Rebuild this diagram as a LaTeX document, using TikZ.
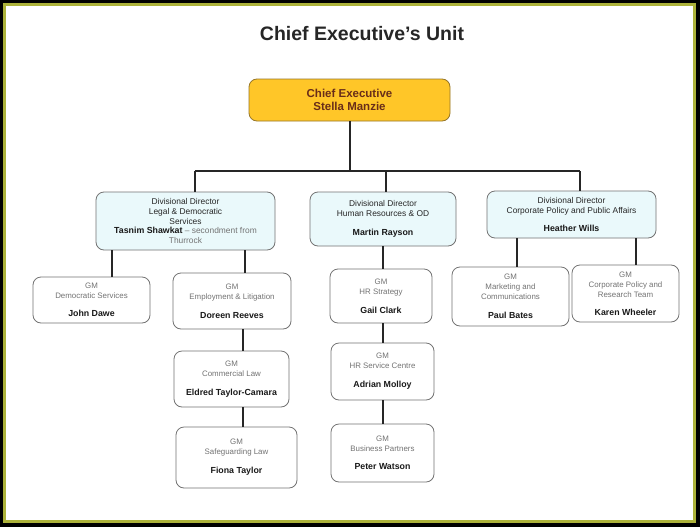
\documentclass[tikz,border=0pt]{standalone}
\usepackage{fontspec}
\setmainfont{Liberation Sans}
\definecolor{cadreolive}{RGB}{172,178,58}
\definecolor{orCE}{RGB}{255,198,40}
\definecolor{bordCE}{RGB}{150,118,40}
\definecolor{brunCE}{RGB}{105,45,25}
\definecolor{cyanDD}{RGB}{234,249,251}
\newcommand{\nom}[1]{{\color{black!90}\bfseries\fontsize{8.8}{10}\selectfont #1}}
\begin{document}
\begin{tikzpicture}[x=1pt,y=-1pt]
            % Styles (MODIFIABLES)
            \tikzstyle{lien}=[line width=2pt,black!85]
            \tikzstyle{chef}=[draw=bordCE,fill=orCE,line width=0.8pt,rounded corners=8pt,text=brunCE,align=center,inner sep=0pt,font=\fontsize{11.5}{13}\selectfont\bfseries]
            \tikzstyle{directeur}=[draw=black!55,fill=cyanDD,line width=0.8pt,rounded corners=8pt,align=center,inner sep=0pt,text=black!85,font=\fontsize{8.4}{9.7}\selectfont]
            \tikzstyle{gm}=[draw=black!55,fill=white,line width=0.8pt,rounded corners=8pt,align=center,inner sep=0pt,text=black!55,font=\fontsize{7.9}{10}\selectfont]
            % Dimensions (MODIFIABLES)
            \def\Bus{171}
            % Cadre
            \fill[black] (0,0) rectangle (700,527);
            \fill[cadreolive] (3,3) rectangle (696,523);
            \fill[white] (6,6) rectangle (693,520);
            % Titre
            \node[font=\fontsize{19.5}{22}\selectfont\bfseries,text=black!85] (titre) at (362,34) {Chief Executive’s Unit};
            % Noeuds
            \node[chef,minimum width=201pt,minimum height=42pt] (CE) at (349.5,100) {Chief Executive\\Stella Manzie};
            \node[directeur,minimum width=179pt,minimum height=58pt] (DDa) at (185.5,221) {Divisional Director\\Legal \& Democratic\\Services\\\nom{Tasnim Shawkat}~{\color{black!55}-- secondment from}\\{\color{black!55}Thurrock}};
            \node[directeur,minimum width=146pt,minimum height=54pt] (DDb) at (383,219) {Divisional Director\\Human Resources \& OD\\[10pt]\nom{Martin Rayson}};
            \node[directeur,minimum width=169pt,minimum height=47pt] (DDc) at (571.5,214.5) {Divisional Director\\Corporate Policy and Public Affairs\\[9pt]\nom{Heather Wills}};
            \node[gm,minimum width=117pt,minimum height=46pt] (JD) at (91.5,300) {GM\\Democratic Services\\[8pt]\nom{John Dawe}};
            \node[gm,minimum width=118pt,minimum height=56pt] (DR) at (232,301) {GM\\Employment \& Litigation\\[9pt]\nom{Doreen Reeves}};
            \node[gm,minimum width=115pt,minimum height=56pt] (ETC) at (231.5,379) {GM\\Commercial Law\\[9pt]\nom{Eldred Taylor-Camara}};
            \node[gm,minimum width=121pt,minimum height=61pt] (FT) at (236.5,457.5) {GM\\Safeguarding Law\\[9pt]\nom{Fiona Taylor}};
            \node[gm,minimum width=102pt,minimum height=54pt] (GC) at (381,296) {GM\\HR Strategy\\[9pt]\nom{Gail Clark}};
            \node[gm,minimum width=103pt,minimum height=57pt] (AM) at (382.5,371.5) {GM\\HR Service Centre\\[9pt]\nom{Adrian Molloy}};
            \node[gm,minimum width=103pt,minimum height=58pt] (PW) at (382.5,453) {GM\\Business Partners\\[8pt]\nom{Peter Watson}};
            \node[gm,minimum width=117pt,minimum height=59pt] (PB) at (510.5,296.5) {GM\\Marketing and\\Communications\\[9pt]\nom{Paul Bates}};
            \node[gm,minimum width=107pt,minimum height=57pt] (KW) at (625.5,293.5) {GM\\Corporate Policy and\\Research Team\\[8pt]\nom{Karen Wheeler}};
            % Points d'attache
            \coordinate (busG) at (195,\Bus);
            \coordinate (busM) at (386,\Bus);
            \coordinate (busD) at (580,\Bus);
            \coordinate (xJD) at (112,0);
            \coordinate (xDR) at (245,0);
            \coordinate (xJUR) at (243,0);
            \coordinate (xRH) at (383,0);
            \coordinate (xPB) at (517,0);
            \coordinate (xKW) at (636,0);
            % Liens
            \draw[lien] (CE.south) -- (CE.south |- busG);
            \draw[lien] (busG) -- (busD);
            \draw[lien] (busG) -- (busG |- DDa.north);
            \draw[lien] (busM) -- (busM |- DDb.north);
            \draw[lien] (busD) -- (busD |- DDc.north);
            \draw[lien] (DDa.south -| xJD) -- (JD.north -| xJD);
            \draw[lien] (DDa.south -| xDR) -- (DR.north -| xDR);
            \draw[lien] (DR.south -| xJUR) -- (ETC.north -| xJUR);
            \draw[lien] (ETC.south -| xJUR) -- (FT.north -| xJUR);
            \draw[lien] (DDb.south -| xRH) -- (GC.north -| xRH);
            \draw[lien] (GC.south -| xRH) -- (AM.north -| xRH);
            \draw[lien] (AM.south -| xRH) -- (PW.north -| xRH);
            \draw[lien] (DDc.south -| xPB) -- (PB.north -| xPB);
            \draw[lien] (DDc.south -| xKW) -- (KW.north -| xKW);
\end{tikzpicture}
\end{document}
